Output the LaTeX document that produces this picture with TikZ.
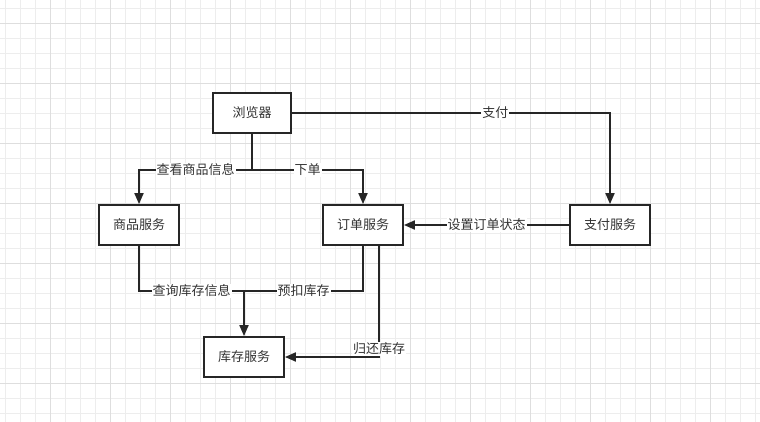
\documentclass[tikz,border=0pt]{standalone}
\usepackage{fontspec}
\setmainfont{Noto Sans CJK SC}
\usetikzlibrary{arrows.meta}

\begin{document}
\begin{tikzpicture}[
        x=1pt, y=-1pt,
        every node/.style={font=\fontsize{13}{15}\selectfont, text=black!80},
        svc/.style={draw=black!85, line width=1.8pt, fill=white, minimum width=80pt, minimum height=40pt, inner sep=0pt},
        link/.style={-{Triangle[width=9pt,length=11pt]}, line width=1.8pt, draw=black!85},
        wire/.style={line width=1.8pt, draw=black!85},
        lbl/.style={fill=white, inner sep=1pt},
        minor/.style={draw=black!7, line width=0.9pt},
        major/.style={draw=black!13, line width=0.9pt}
    ]

    % Canvas and grid
    \fill[white] (0,0) rectangle (760,422);
    \useasboundingbox (0,0) rectangle (760,422);
    \foreach \x in {5,20,...,755} \draw[minor] (\x,0) -- (\x,422);
    \foreach \y in {8,23,...,413} \draw[minor] (0,\y) -- (760,\y);
    \foreach \x in {50,110,...,710} \draw[major] (\x,0) -- (\x,422);
    \foreach \y in {23,83,...,383} \draw[major] (0,\y) -- (760,\y);

    % Services
    \node[svc, minimum width=78pt] (browser) at (252,113) {浏览器};
    \node[svc] (goods) at (139,225) {商品服务};
    \node[svc] (order) at (363,225) {订单服务};
    \node[svc] (pay) at (610,225) {支付服务};
    \node[svc] (stock) at (244,357) {库存服务};

    % Junction points
    \coordinate (fork) at (252,170);
    \coordinate (merge) at (244,291);

    % Browser -> services
    \draw[link] (browser.south) -- (fork) -| node[lbl, pos=0.25] {查看商品信息} (goods.north);
    \draw[link] (fork) -| node[lbl, pos=0.25] {下单} (order.north);
    \draw[link] (browser.east) -| node[lbl, pos=0.32] {支付} (pay.north);

    % Payment -> order
    \draw[link] (pay.west) -- node[lbl] {设置订单状态} (order.east);

    % Services -> stock
    \draw[wire] (goods.south) |- node[lbl, pos=0.75] {查询库存信息} (merge);
    \draw[wire] (order.south) |- node[lbl, pos=0.75] {预扣库存} (merge);
    \draw[link] (merge) -- (stock.north);
    \draw[link] ([xshift=16pt]order.south) |- node[lbl, pos=0.5, yshift=8pt] {归还库存} (stock.east);

\end{tikzpicture}
\end{document}
